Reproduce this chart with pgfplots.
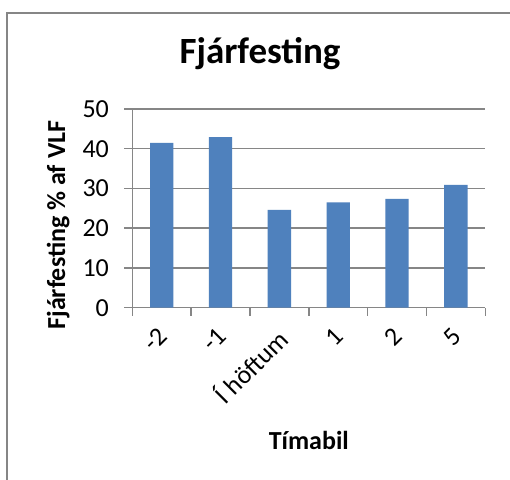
\documentclass[border=0pt]{standalone}
\usepackage{fontspec}
\setmainfont{Carlito}
\usepackage{pgfplots}
\pgfplotsset{compat=1.18}
\definecolor{barblue}{HTML}{4F81BD}
\definecolor{gridgray}{HTML}{868686}
\begin{document}
\begin{tikzpicture}
\useasboundingbox (0,0) rectangle (255pt,240pt);
\fill[white] (0,0) rectangle (255pt,240pt);
\draw[gridgray, line width=0.8pt] (3.5pt,-5pt) -- (3.5pt,233.5pt) -- (265pt,233.5pt);
\begin{axis}[
  at={(66.15pt,86.15pt)}, anchor=south west,
  scale only axis, width=176.5pt, height=99.35pt,
  ymin=0, ymax=50, ytick={0,10,...,50},
  xmin=-0.5, xmax=5.5,
  xtick={-0.5,0.5,...,5.5}, xticklabels={},
  extra x ticks={0,1,2,3,4,5},
  extra x tick labels={-2,-1,Í höftum,1,2,5},
  extra x tick style={major tick length=0pt, xticklabel style={xshift=-2.5pt, yshift=-7.5pt, rotate=45, anchor=north east, inner sep=1pt, font=\fontsize{13}{15}\selectfont}},
  axis x line=bottom, axis y line=left,
  ymajorgrids, grid style={gridgray, line width=0.75pt},
  tick align=outside, major tick length=4pt,
  tick style={gridgray, line width=0.75pt},
  axis line style={gridgray, line width=0.75pt, -},
  yticklabel style={font=\fontsize{13}{15}\selectfont, /pgf/number format/assume math mode=true, inner sep=1pt, xshift=-6.5pt},
  title={Fjárfesting},
  title style={font=\bfseries\fontsize{18.5}{22}\selectfont, at={(axis description cs:0.362,1.28)}, anchor=center, yshift=-6pt},
  xlabel={Tímabil},
  xlabel style={font=\bfseries\fontsize{13}{16}\selectfont, at={(axis description cs:0.5,-0.666)}, anchor=center},
  ylabel={Fjárfesting \% af VLF},
  ylabel style={font=\bfseries\fontsize{13}{16}\selectfont, at={(axis description cs:-0.21,0.416)}, anchor=center},
]
\addplot[ybar, bar width=11.65pt, fill=barblue, draw=none] coordinates {(0,41.5) (1,42.9) (2,24.6) (3,26.5) (4,27.4) (5,30.9)};
\end{axis}
\end{tikzpicture}
\end{document}
